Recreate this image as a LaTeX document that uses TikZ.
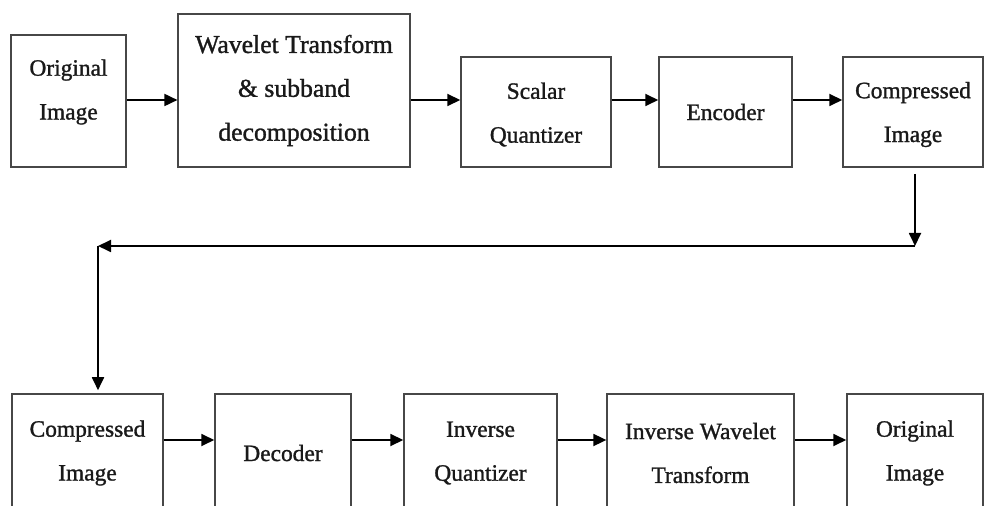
\documentclass[tikz,border=0pt]{standalone}
\usepackage{fontspec}
\setmainfont{Liberation Serif}[FakeBold=1.2]
\usetikzlibrary{arrows.meta}

\tikzset{
  blockbox/.style={draw=black!72, line width=2bp, fill=white, inner sep=0pt},
  blocktext/.style={align=center, text=black!90, inner sep=0pt,
    font=\fontsize{23.5}{44}\selectfont},
  bigtext/.style={font=\fontsize{25.8}{44}\selectfont},
  flowarrow/.style={draw=black, line width=1.8bp,
    -{Triangle[length=13bp,width=12bp]}}
}

% a box by its corners (x1,y1) and (x2,y2); its text is set as a centred
% label, #1 = options of that label
\newcommand{\blockat}[7][]{%
  \node[blockbox, minimum width={#5-#3}, minimum height={#6-#4},
    label={[blocktext, #1]center:{#7}}]
    (#2) at ({(#3+#5)/2},{(#4+#6)/2}) {};}

\begin{document}
\begin{tikzpicture}[x=1bp,y=-1bp]
  \useasboundingbox (0,0) rectangle (989,506);

  % encoding chain
  \blockat[yshift=9bp]{orig}{11}{35}{126}{167}{Original\\Image}
  \blockat[bigtext]{wt}{178}{14}{410}{167}{Wavelet Transform\\\& subband\\decomposition}
  \blockat[yshift=-2.5bp]{sq}{461}{57}{611}{167}{Scalar\\Quantizer}
  \blockat{enc}{659}{57}{792}{167}{Encoder}
  \blockat[yshift=-2.5bp]{comp}{843}{57}{983}{167}{Compressed\\Image}

  % decoding chain
  \blockat{comp2}{12}{394}{163}{512}{Compressed\\Image}
  \blockat{dec}{215}{394}{351}{512}{Decoder}
  \blockat{iq}{404}{394}{557}{512}{Inverse\\Quantizer}
  \blockat{iwt}{607}{394}{794}{512}{Inverse Wavelet\\Transform}
  \blockat{rec}{847}{394}{983}{512}{Original\\Image}

  % heights of the horizontal arrows
  \coordinate (toprow) at (0,100);
  \coordinate (botrow) at (0,440);

  \foreach \a/\b in {orig/wt, wt/sq, sq/enc, enc/comp}
    \draw[flowarrow] (\a.east |- toprow) -- (\b.west |- toprow);
  \foreach \a/\b in {comp2/dec, dec/iq, iq/iwt, iwt/rec}
    \draw[flowarrow] (\a.east |- botrow) -- (\b.west |- botrow);

  % return path from the compressed image to the decoder side
  \coordinate (turnR) at (915,246);
  \coordinate (turnL) at (98,246);
  \draw[flowarrow, shorten <=6bp] (comp.south -| turnR) -- (turnR);
  \draw[flowarrow] (turnR) -- (turnL);
  \draw[flowarrow, shorten >=3bp] (turnL) -- (comp2.north -| turnL);
\end{tikzpicture}
\end{document}
